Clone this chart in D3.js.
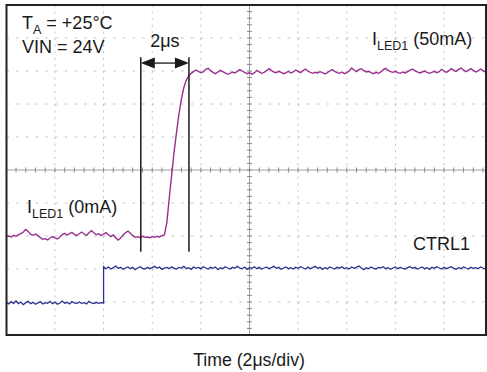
<!DOCTYPE html>
<html>
<head>
<meta charset="utf-8">
<script src="https://cdn.jsdelivr.net/npm/d3@7"></script>
<style>
  body { margin: 0; background: #fff; }
  svg text { font-family: "Liberation Sans", Arial, sans-serif; fill: #1a1a1a; }
</style>
</head>
<body>
<div id="chart"></div>
<script>
// time base: 2us/div, 10 divisions; traces sampled every 0.1us
const sampleStep = 0.1;

// ILED1 trace, in screen divisions (0 = centre line)
const iledLow = [
  -2.02,-2.00,-2.03,-1.98,-2.01,-1.96,-1.93,-1.88,-1.80,-1.86,
  -1.95,-1.98,-1.94,-1.99,-2.05,-2.10,-2.08,-2.12,-2.06,-2.02,
  -2.06,-2.09,-2.03,-1.96,-1.92,-1.97,-1.93,-1.89,-1.95,-1.99,
  -1.93,-1.88,-1.94,-1.98,-1.90,-1.84,-1.90,-1.96,-1.93,-1.99,
  -1.94,-1.90,-1.96,-2.02,-1.97,-2.05,-2.12,-2.06,-1.97,-1.90,
  -1.85,-1.92,-1.99,-2.04,-2.02,-2.05,-2.01,-2.04,-2.03,-2.05,
  -2.02,-2.04,-2.01,-2.03,-1.99,-1.97
];
const iledRise = [-1.6,-0.85,-0.15,0.55,1.15,1.7,2.15,2.5,2.72,2.85];
const iledHigh = [
  2.93,2.98,3.03,2.99,2.95,2.97,3.05,3.08,3.01,2.96,
  2.92,2.97,3.02,2.98,2.94,2.90,2.93,2.97,2.94,2.99,
  3.04,3.00,2.96,2.92,2.95,2.90,2.94,3.02,2.97,2.93,
  2.96,3.01,3.07,3.02,2.97,2.95,2.99,2.96,2.92,2.95,
  2.99,2.94,2.97,3.03,2.99,2.95,3.01,3.06,3.00,2.96,
  2.93,2.96,2.94,2.98,2.95,2.91,2.95,3.00,3.04,2.99,
  2.95,2.93,2.97,2.92,2.95,3.00,3.09,3.03,2.98,3.04,
  3.07,3.01,2.97,2.99,2.95,2.92,2.96,2.93,2.97,3.04,
  3.08,3.02,2.98,2.96,2.99,2.95,2.93,2.97,2.94,2.98,
  3.02,3.06,3.01,2.97,2.94,2.97,3.00,2.96,2.93,2.96,
  2.99,2.95,2.98,3.05,3.00,2.96,3.01,3.07,3.02,2.99,
  3.05,3.09,3.03,2.98,3.02,3.07,3.02,2.97,3.00,3.06,
  3.01,2.97,3.00,2.96,2.98
];

// CTRL1 trace, in divisions; steps high at ctrlStepTime
const ctrlStepTime = 4.0;
const ctrlLow = [
  -4.01,-4.06,-3.99,-4.04,-3.97,-4.05,-4.00,-4.08,-4.02,-3.98,
  -4.05,-4.01,-4.07,-4.03,-3.99,-4.06,-4.02,-4.04,-3.98,-4.05,
  -4.00,-4.07,-4.03,-3.97,-4.04,-4.01,-4.06,-3.99,-4.03,-4.05,
  -4.00,-4.04,-4.02,-4.06,-3.98,-4.03,-4.05,-4.01,-4.04,-4.02,
  -4.03
];
const ctrlHigh = [
  -2.93,-2.99,-2.94,-3.00,-2.96,-2.91,-2.98,-2.95,-3.01,-2.97,
  -2.94,-2.99,-2.95,-3.02,-2.97,-2.93,-2.98,-3.00,-2.95,-2.99,
  -2.96,-2.92,-2.98,-2.94,-3.01,-2.97,-2.95,-2.99,-2.93,-2.98,
  -3.00,-2.95,-2.97,-2.92,-2.99,-2.96,-3.01,-2.94,-2.98,-2.95,
  -2.99,-2.93,-2.97,-3.00,-2.95,-2.98,-2.94,-3.02,-2.96,-2.99,
  -2.93,-2.97,-3.00,-2.95,-2.98,-2.92,-2.97,-2.99,-2.94,-3.01,
  -2.96,-2.98,-2.93,-2.99,-2.95,-3.00,-2.97,-2.94,-2.99,-2.96,
  -2.92,-2.98,-2.95,-3.01,-2.97,-2.94,-2.99,-2.96,-3.00,-2.95,
  -2.98,-2.93,-2.97,-3.00,-2.94,-2.99,-2.96,-2.92,-2.98,-2.95,
  -3.01,-2.96,-2.99,-2.94,-2.97,-3.00,-2.95,-2.98,-2.93,-2.99,
  -2.96,-3.00,-2.94,-2.98,-2.95,-2.91,-2.97,-3.02,-2.96,-2.99,
  -2.94,-2.98,-3.00,-2.95,-2.97,-2.93,-2.99,-2.96,-3.01,-2.97,
  -2.94,-2.99,-2.95,-2.98,-3.00,-2.96,-2.93,-2.98,-2.95,-3.00,
  -2.97,-2.94,-2.99,-2.96,-3.01,-2.95,-2.98,-2.93,-2.97,-3.00,
  -2.95,-2.99,-2.96,-2.93,-2.98,-3.01,-2.96,-2.99,-2.94,-2.97,
  -3.00,-2.95,-2.98,-2.96,-2.99,-2.94,-2.97,-3.00,-2.95,-2.98,
  -2.96
];

// cursor markers (us) and their vertical extent / arrow level (div)
const markerTimes = [5.53, 7.51];
const markerTop = 3.42, markerBottom = -2.48, arrowLevel = 3.24;

const xDivs = d3.range(0, 21, 2);      // 0..20 us
const yDivs = d3.range(-5, 6, 1);      // -5..5 div

// sizes
const width = 487, height = 372;
const frame = { left: 6.5, top: 5, right: 486, bottom: 335 };

const x = d3.scaleLinear().domain([0, 20]).range([6.3, 492.7]);
const y = d3.scaleLinear().domain([-5, 5]).range([335, 5]);

const svg = d3.select("#chart").append("svg")
  .attr("width", width)
  .attr("height", height);

svg.append("clipPath").attr("id", "clip")
  .append("rect")
  .attr("x", frame.left).attr("y", frame.top)
  .attr("width", frame.right - frame.left)
  .attr("height", frame.bottom - frame.top);

const plot = svg.append("g").attr("clip-path", "url(#clip)");

// dotted grid
plot.selectAll("line.vgrid")
  .data(xDivs.filter(d => d !== 10))
  .enter().append("line")
  .attr("x1", d => x(d)).attr("x2", d => x(d))
  .attr("y1", frame.top).attr("y2", frame.bottom)
  .style("stroke", "#c2c2c2")
  .style("stroke-dasharray", "2,4.6");

plot.selectAll("line.hgrid")
  .data(yDivs.filter(d => d !== 0))
  .enter().append("line")
  .attr("x1", frame.left).attr("x2", frame.right)
  .attr("y1", d => y(d)).attr("y2", d => y(d))
  .style("stroke", "#c2c2c2")
  .style("stroke-dasharray", "2.5,7.2");

// centre axes with minor ticks
plot.append("line")
  .attr("x1", frame.left).attr("x2", frame.right)
  .attr("y1", y(0)).attr("y2", y(0))
  .style("stroke", "#a0a0a0");
plot.append("line")
  .attr("x1", x(10)).attr("x2", x(10))
  .attr("y1", frame.top).attr("y2", frame.bottom)
  .style("stroke", "#a0a0a0");

plot.selectAll("line.xminor")
  .data(d3.range(0, 20.01, 0.4))
  .enter().append("line")
  .attr("x1", d => x(d)).attr("x2", d => x(d))
  .attr("y1", y(0) - 2.5).attr("y2", y(0) + 2.5)
  .style("stroke", "#888");

plot.selectAll("line.yminor")
  .data(d3.range(-5, 5.01, 0.2))
  .enter().append("line")
  .attr("x1", x(10) - 2.5).attr("x2", x(10) + 2.5)
  .attr("y1", d => y(d)).attr("y2", d => y(d))
  .style("stroke", "#888");

// traces
const line = d3.line()
  .x(d => x(d.t))
  .y(d => y(d.v));

const iled = iledLow.concat(iledRise, iledHigh)
  .map((v, i) => ({ t: i * sampleStep, v: v }));

const ctrl = ctrlLow.map((v, i) => ({ t: i * sampleStep, v: v }))
  .concat(ctrlHigh.map((v, i) => ({ t: ctrlStepTime + i * sampleStep, v: v })));

plot.append("path")
  .datum(ctrl)
  .attr("d", line)
  .style("fill", "none")
  .style("stroke", "#2b2f8e")
  .style("stroke-width", 1.3);

plot.append("path")
  .datum(iled)
  .attr("d", line)
  .style("fill", "none")
  .style("stroke", "#9b2f8f")
  .style("stroke-width", 1.4);

// cursor markers and arrows
svg.selectAll("line.marker")
  .data(markerTimes)
  .enter().append("line")
  .attr("x1", d => x(d)).attr("x2", d => x(d))
  .attr("y1", y(markerTop)).attr("y2", y(markerBottom))
  .style("stroke", "#1a1a1a")
  .style("stroke-width", 1.5);

const ax0 = x(markerTimes[0]), ax1 = x(markerTimes[1]), ay = y(arrowLevel);
svg.append("line")
  .attr("x1", ax0 + 10).attr("x2", ax1 - 10)
  .attr("y1", ay).attr("y2", ay)
  .style("stroke", "#1a1a1a")
  .style("stroke-width", 1.3);
svg.append("path")
  .attr("d", `M${ax0},${ay}L${ax0 + 14},${ay - 5.5}L${ax0 + 14},${ay + 5.5}Z`)
  .style("fill", "#1a1a1a");
svg.append("path")
  .attr("d", `M${ax1},${ay}L${ax1 - 14},${ay - 5.5}L${ax1 - 14},${ay + 5.5}Z`)
  .style("fill", "#1a1a1a");

// frame
svg.append("rect")
  .attr("x", frame.left).attr("y", frame.top)
  .attr("width", frame.right - frame.left)
  .attr("height", frame.bottom - frame.top)
  .style("fill", "none")
  .style("stroke", "#222")
  .style("stroke-width", 2);

// labels
function subLabel(px, py, main, sub, rest) {
  const t = svg.append("text").attr("x", px).attr("y", py).style("font-size", "18px");
  t.append("tspan").text(main);
  t.append("tspan").attr("dy", 5).style("font-size", "12.5px").text(sub);
  t.append("tspan").attr("dy", -5).text(rest);
}

subLabel(22, 29, "T", "A", " = +25°C");
svg.append("text").attr("x", 22).attr("y", 53)
  .style("font-size", "18px").text("VIN = 24V");
svg.append("text").attr("x", (ax0 + ax1) / 2).attr("y", 47)
  .attr("text-anchor", "middle")
  .style("font-size", "18px").text("2μs");
subLabel(372, 45, "I", "LED1", " (50mA)");
subLabel(27, 213, "I", "LED1", " (0mA)");
svg.append("text").attr("x", 413).attr("y", 250)
  .style("font-size", "18px").text("CTRL1");

svg.append("text").attr("x", 249).attr("y", 366)
  .attr("text-anchor", "middle")
  .style("font-size", "17.7px").text("Time (2μs/div)");
</script>
</body>
</html>
